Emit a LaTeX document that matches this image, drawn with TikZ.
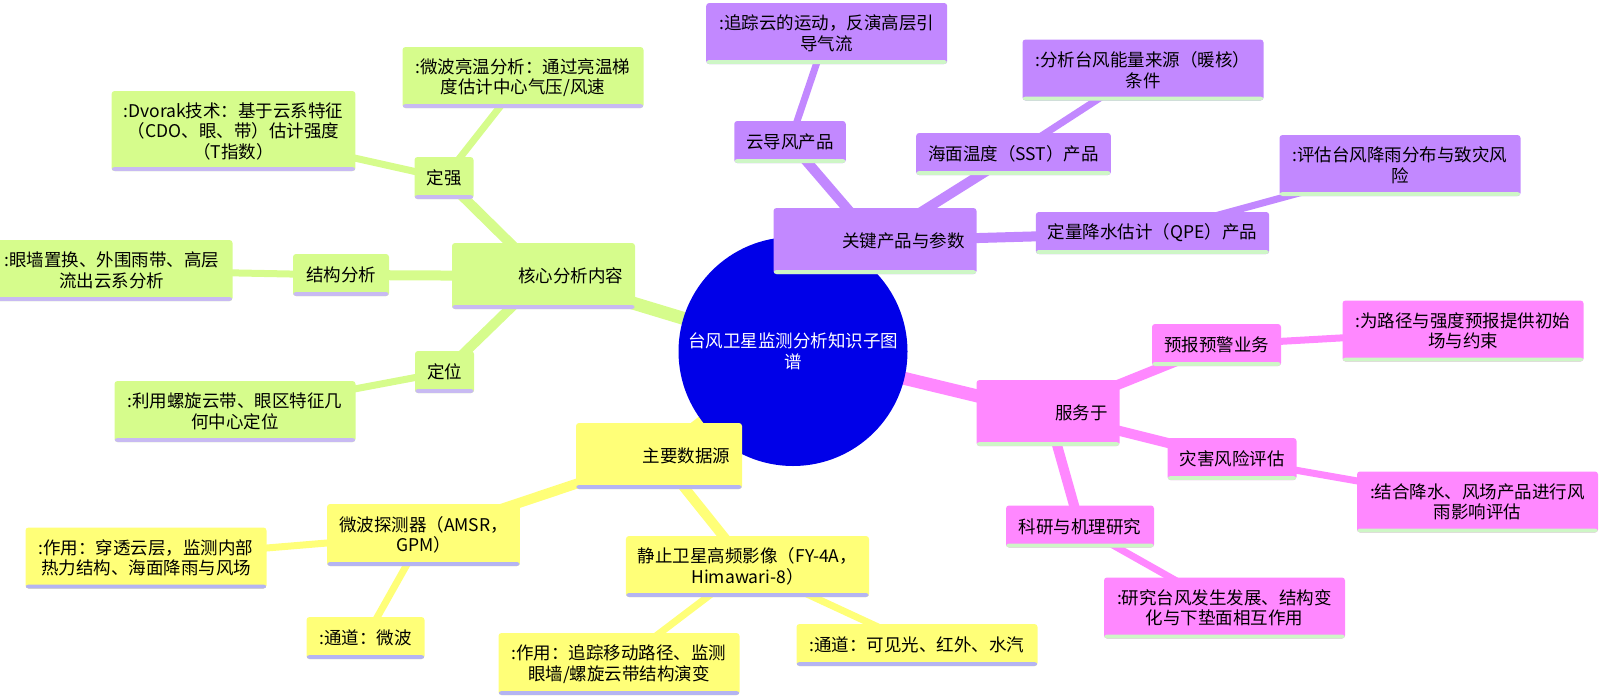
\documentclass[tikz,border=0pt]{standalone}
\usepackage{fontspec}
\setmainfont{Noto Sans CJK SC}
\usepackage{xcolor}
\usepackage{tikz}
\usetikzlibrary{positioning}
\definecolor{maproot}{RGB}{0,0,232}
\definecolor{mapgreen}{RGB}{214,252,140}
\definecolor{mappurple}{RGB}{194,136,255}
\definecolor{mappink}{RGB}{255,136,255}
\definecolor{mapyellow}{RGB}{255,255,120}
\definecolor{lilacline}{RGB}{200,186,242}
\definecolor{blueline}{RGB}{180,180,242}
\definecolor{mintline}{RGB}{206,246,198}
\pgfdeclarelayer{edges}
\pgfsetlayers{edges,main}
\newcommand{\mapfont}{\fontsize{17.5}{20.5}\selectfont}
\tikzstyle{mapbox} = [rectangle, rounded corners=3pt,
minimum height=42pt, inner xsep=12pt, inner ysep=3pt,
align=center, font=\mapfont]
\tikzstyle{greenbox} = [mapbox, fill=mapgreen,
path picture={\fill[lilacline] ([yshift=-1pt]path picture bounding box.south west)
rectangle ([yshift=4pt]path picture bounding box.south east);}]
\tikzstyle{purplebox} = [mapbox, fill=mappurple,
path picture={\fill[mintline] ([yshift=-1pt]path picture bounding box.south west)
rectangle ([yshift=4pt]path picture bounding box.south east);}]
\tikzstyle{pinkbox} = [mapbox, fill=mappink,
path picture={\fill[mintline] ([yshift=-1pt]path picture bounding box.south west)
rectangle ([yshift=4pt]path picture bounding box.south east);}]
\tikzstyle{yellowbox} = [mapbox, fill=mapyellow,
path picture={\fill[blueline] ([yshift=-1pt]path picture bounding box.south west)
rectangle ([yshift=4pt]path picture bounding box.south east);}]
\tikzstyle{rootnode} = [circle, fill=maproot, text=white, minimum size=229pt,
inner sep=0pt, align=center, font=\mapfont]
\tikzstyle{topic} = [minimum height=66pt, align=right]
\tikzstyle{leaf} = [minimum width=241pt, minimum height=61pt]
\tikzstyle{trunkedge} = [line width=13pt]
\tikzstyle{branchedge} = [line width=10pt]
\tikzstyle{twigedge} = [line width=7pt]

\begin{document}
\begin{tikzpicture}[x=1pt, y=-1pt]
    \useasboundingbox (0,0) rectangle (1600,697);
    \node (root) [rootnode] at (793,351.5) {台风卫星监测分析知识子图\\谱};

    % 核心分析内容
    \node (core) [greenbox, topic, text width=159pt] at (543.5,276) {核心分析内容};
    \node (intensity) [greenbox, minimum width=58pt] at (444,178) {定强};
    \node (dvorak) [greenbox, leaf, minimum height=80pt] at (233.5,131)
    {:Dvorak技术：基于云系特征\\（CDO、眼、带）估计强度\\（T指数）};
    \node (tbnote) [greenbox, leaf] at (523,77.5)
    {:微波亮温分析：通过亮温梯\\度估计中心气压/风速};
    \node (structure) [greenbox, minimum width=96pt] at (341,275) {结构分析};
    \node (ewrc) [greenbox, leaf] at (112,270.5)
    {:眼墙置换、外围雨带、高层\\流出云系分析};
    \node (locate) [greenbox, minimum width=59pt] at (444.5,372) {定位};
    \node (spiral) [greenbox, leaf] at (235,411.5)
    {:利用螺旋云带、眼区特征几\\何中心定位};

    % 关键产品与参数
    \node (products) [purplebox, topic, text width=179pt] at (875,241) {关键产品与参数};
    \node (amv) [purplebox, minimum width=110pt] at (790,142) {云导风产品};
    \node (amvnote) [purplebox, leaf] at (826.7,33.5)
    {:追踪云的运动，反演高层引\\导气流};
    \node (sst) [purplebox, minimum width=191pt] at (1013.5,154) {海面温度（SST）产品};
    \node (sstnote) [purplebox, leaf] at (1143,70)
    {:分析台风能量来源（暖核）\\条件};
    \node (qpe) [purplebox, minimum width=233pt] at (1152.5,233) {定量降水估计（QPE）产品};
    \node (qpenote) [purplebox, leaf] at (1400,165.5)
    {:评估台风降雨分布与致灾风\\险};

    % 服务于
    \node (serve) [pinkbox, topic, text width=119pt] at (1048,413) {服务于};
    \node (forecast) [pinkbox, minimum width=127pt] at (1216.5,345) {预报预警业务};
    \node (fcnote) [pinkbox, leaf] at (1463,331)
    {:为路径与强度预报提供初始\\场与约束};
    \node (risk) [pinkbox, minimum width=129pt] at (1232,459) {灾害风险评估};
    \node (risknote) [pinkbox, leaf] at (1477.5,502)
    {:结合降水、风场产品进行风\\雨影响评估};
    \node (research) [pinkbox, minimum width=148pt] at (1080,526.5) {科研与机理研究};
    \node (resnote) [pinkbox, leaf] at (1224.5,608)
    {:研究台风发生发展、结构变\\化与下垫面相互作用};

    % 主要数据源
    \node (data) [yellowbox, topic, text width=142pt] at (659,456) {主要数据源};
    \node (mwsensor) [yellowbox, minimum width=189pt, minimum height=62pt] at (423.5,535)
    {微波探测器（AMSR，\\GPM）};
    \node (mwuse) [yellowbox, leaf] at (146,558)
    {:作用：穿透云层，监测内部\\热力结构、海面降雨与风场};
    \node (mwchan) [yellowbox, minimum width=118pt] at (365.5,638) {:通道：微波};
    \node (geo) [yellowbox, leaf, minimum width=242pt] at (747.5,566.5)
    {静止卫星高频影像（FY-4A，\\Himawari-8）};
    \node (geouse) [yellowbox, leaf, minimum height=62pt] at (619,664)
    {:作用：追踪移动路径、监测\\眼墙/螺旋云带结构演变};
    \node (geochan) [yellowbox, leaf, minimum height=42pt] at (917,645)
    {:通道：可见光、红外、水汽};

    \begin{pgfonlayer}{edges}
        \draw[trunkedge, mapgreen] (root.center) -- (core.center);
        \draw[branchedge, mapgreen] (core.center) -- (intensity.center);
        \draw[branchedge, mapgreen] (core.center) -- (structure.center);
        \draw[branchedge, mapgreen] (core.center) -- (locate.center);
        \draw[twigedge, mapgreen] (intensity.center) -- (dvorak.center);
        \draw[twigedge, mapgreen] (intensity.center) -- (tbnote.center);
        \draw[twigedge, mapgreen] (structure.center) -- (ewrc.center);
        \draw[twigedge, mapgreen] (locate.center) -- (spiral.center);

        \draw[trunkedge, mappurple] (root.center) -- (products.center);
        \draw[branchedge, mappurple] (products.center) -- (amv.center);
        \draw[branchedge, mappurple] (products.center) -- (sst.center);
        \draw[branchedge, mappurple] (products.center) -- (qpe.center);
        \draw[twigedge, mappurple] (amv.center) -- (amvnote.center);
        \draw[twigedge, mappurple] (sst.center) -- (sstnote.center);
        \draw[twigedge, mappurple] (qpe.center) -- (qpenote.center);

        \draw[trunkedge, mappink] (root.center) -- (serve.center);
        \draw[branchedge, mappink] (serve.center) -- (forecast.center);
        \draw[branchedge, mappink] (serve.center) -- (risk.center);
        \draw[branchedge, mappink] (serve.center) -- (research.center);
        \draw[twigedge, mappink] (forecast.center) -- (fcnote.center);
        \draw[twigedge, mappink] (risk.center) -- (risknote.center);
        \draw[twigedge, mappink] (research.center) -- (resnote.center);

        \draw[trunkedge, mapyellow] (root.center) -- (data.center);
        \draw[branchedge, mapyellow] (data.center) -- (mwsensor.center);
        \draw[branchedge, mapyellow] (data.center) -- (geo.center);
        \draw[twigedge, mapyellow] (mwsensor.center) -- (mwuse.center);
        \draw[twigedge, mapyellow] (mwsensor.center) -- (mwchan.center);
        \draw[twigedge, mapyellow] (geo.center) -- (geouse.center);
        \draw[twigedge, mapyellow] (geo.center) -- (geochan.center);
    \end{pgfonlayer}
\end{tikzpicture}
\end{document}
